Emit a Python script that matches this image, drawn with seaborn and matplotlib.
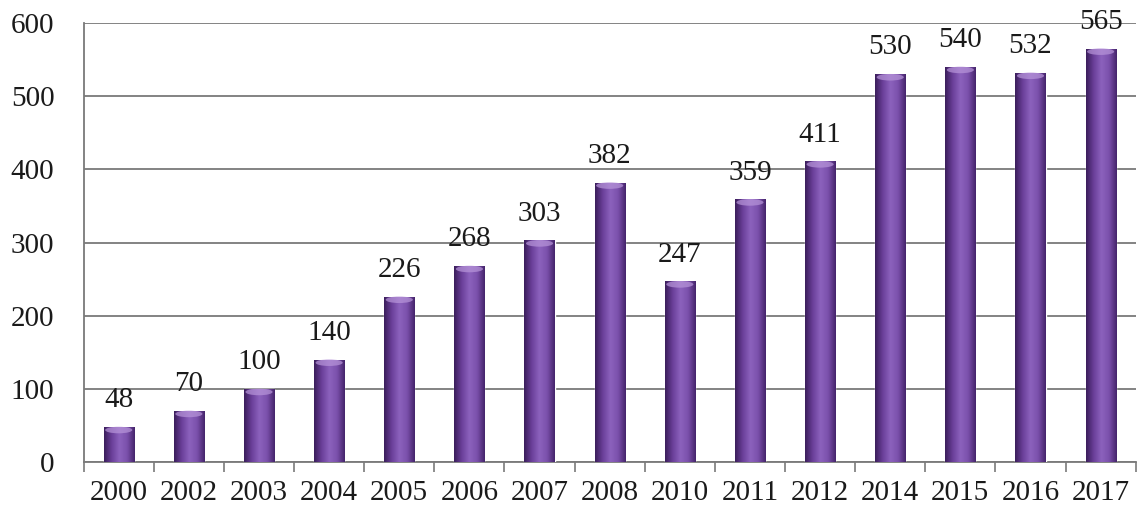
import numpy as np
import pandas as pd
import matplotlib
matplotlib.use('Agg')
import matplotlib.pyplot as plt
import seaborn as sns
from matplotlib.colors import LinearSegmentedColormap

# data
years = ['2000', '2002', '2003', '2004', '2005', '2006', '2007', '2008',
         '2010', '2011', '2012', '2014', '2015', '2016', '2017']
values = [48, 70, 100, 140, 226, 268, 303, 382, 247, 359, 411, 530, 540, 532, 565]
y_ticks = [0, 100, 200, 300, 400, 500, 600]

df = pd.DataFrame({'year': years, 'value': values})

sns.set_theme(style='white')
plt.rcParams['font.family'] = ['Liberation Serif', 'DejaVu Serif']

fig, ax = plt.subplots(figsize=(11.46, 5.13), dpi=100)
fig.subplots_adjust(left=0.073, right=0.991, top=0.955, bottom=0.099)

sns.barplot(data=df, x='year', y='value', color='#6f45a0', width=0.43,
            saturation=1, ax=ax, zorder=3)

# cylinder-like shading across each bar
cmap = LinearSegmentedColormap.from_list(
    'cyl', ['#3a1d5a', '#6a3f99', '#8c62bd', '#7a50ab', '#44236a'])
grad = np.linspace(0, 1, 256).reshape(1, -1)
for p in ax.patches:
    x0, w, h = p.get_x(), p.get_width(), p.get_height()
    im = ax.imshow(grad, cmap=cmap, aspect='auto', zorder=4,
                   extent=[x0, x0 + w, 0, h], interpolation='bicubic')
    im.set_clip_path(p)
    # light top cap
    ax.add_patch(matplotlib.patches.Ellipse((x0 + w / 2, h - 4), w * 0.9, 9,
                                            color='#b896da', alpha=0.7, zorder=5, lw=0))

for i, v in enumerate(values):
    ax.text(i, v + 19, str(v), ha='center', va='bottom', fontsize=21,
            color='#1a1a1a', zorder=6)

ax.set_xlim(-0.5, len(years) - 0.5)
ax.set_ylim(0, 600)
ax.set_yticks(y_ticks)
ax.yaxis.grid(True, color='#7a7a7a', linewidth=1.3, zorder=0)
ax.set_axisbelow(True)

ax.set_xlabel('')
ax.set_ylabel('')
ax.tick_params(axis='both', labelsize=21, colors='#1a1a1a')
ax.tick_params(axis='y', length=7, width=1.2, color='#7a7a7a', pad=14)
ax.tick_params(axis='x', length=0, pad=13)

# minor ticks between categories
ax.set_xticks(np.arange(-0.5, len(years), 1), minor=True)
ax.tick_params(axis='x', which='minor', length=7, width=1.2, color='#7a7a7a', bottom=True)

for s in ['top', 'right']:
    ax.spines[s].set_visible(False)
ax.spines['left'].set_color('#7a7a7a')
ax.spines['bottom'].set_color('#7a7a7a')
ax.spines['left'].set_linewidth(1.3)
ax.spines['bottom'].set_linewidth(1.3)

plt.savefig('out.png', dpi=100)
